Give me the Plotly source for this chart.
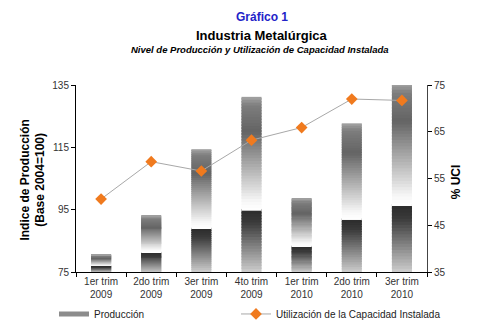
import numpy as np
import plotly.graph_objects as go

# Quarterly categories
quarters = ["1er trim<br>2009", "2do trim<br>2009", "3er trim<br>2009", "4to trim<br>2009",
            "1er trim<br>2010", "2do trim<br>2010", "3er trim<br>2010"]

# Production index (Base 2004=100)
produccion = [80.5, 93.0, 114.4, 131.2, 98.6, 122.7, 135.5]

# Installed capacity utilisation (%)
uci = [50.6, 58.6, 56.6, 63.2, 65.9, 72.0, 71.7]

Y_MIN = 75

# Metallic shading profile along each bar, from top (0) to bottom (1): grey level
shade_pos = [0.00, 0.05, 0.20, 0.60, 0.645, 0.655, 0.72, 1.00]
shade_val = [165, 125, 100, 248, 255, 45, 60, 205]

N_SEG = 60
seg_x, seg_base, seg_h, seg_col = [], [], [], []
for q, v in zip(quarters, produccion):
    h = (v - Y_MIN) / N_SEG
    for i in range(N_SEG):
        t = 1 - (i + 0.5) / N_SEG  # 0 at top, 1 at bottom
        g = int(round(np.interp(t, shade_pos, shade_val)))
        seg_x.append(q)
        seg_base.append(Y_MIN + i * h)
        # segments overlap the next one so no seams appear; the top one ends at the value
        seg_h.append(h * (1.0 if i == N_SEG - 1 else 1.6))
        seg_col.append(f"rgb({g},{g},{g})")

fig = go.Figure()

fig.add_trace(go.Bar(
    x=seg_x, y=seg_h, base=seg_base,
    marker=dict(color=seg_col, line=dict(width=0)),
    width=0.4, showlegend=False, hoverinfo="skip",
))

# Legend entry for the production bars
fig.add_trace(go.Scatter(
    x=[None], y=[None], mode="lines", name="Producción",
    line=dict(color="#8c8c8c", width=5), legend="legend",
))

fig.add_trace(go.Scatter(
    x=quarters, y=uci, yaxis="y2", mode="lines+markers",
    name="Utilización de la Capacidad Instalada",
    line=dict(color="#a8a8a8", width=1),
    marker=dict(symbol="diamond", size=9, color="#f07a1e", line=dict(width=0)),
    legend="legend2",
))

tick_font = dict(family="Liberation Sans, Arial, sans-serif", size=10, color="#333333")
legend_common = dict(
    orientation="h", xref="container", yref="container", xanchor="left",
    y=0.028, yanchor="middle", itemwidth=30,
    font=dict(size=10, color="#222222"), bgcolor="rgba(0,0,0,0)",
)

fig.update_layout(
    width=500, height=323,
    margin=dict(l=76, r=73, t=85, b=51, autoexpand=False),
    paper_bgcolor="white", plot_bgcolor="white",
    barmode="overlay",
    font=dict(family="Liberation Sans, Arial, sans-serif", size=10, color="#222222"),
    xaxis=dict(
        type="category", showline=True, linecolor="black", linewidth=1,
        ticks="outside", ticklen=4, tickcolor="black", tickson="boundaries",
        tickfont=tick_font, showgrid=False, zeroline=False, automargin=False,
    ),
    yaxis=dict(
        range=[75, 135], tickvals=[75, 95, 115, 135], showline=True,
        linecolor="black", linewidth=1, ticks="outside", ticklen=4, tickcolor="black",
        tickfont=tick_font, showgrid=False, zeroline=False, automargin=False,
    ),
    yaxis2=dict(
        range=[35, 75], tickvals=[35, 45, 55, 65, 75], overlaying="y", side="right",
        showline=True, linecolor="#444444", linewidth=1, ticks="outside", ticklen=4,
        tickcolor="black", tickfont=tick_font, showgrid=False, zeroline=False,
        automargin=False,
    ),
    legend=dict(legend_common, x=54 / 500),
    legend2=dict(legend_common, x=236 / 500),
    annotations=[
        dict(text="<b>Gráfico 1</b>", x=0.53, y=17, xref="paper", yref="paper",
             showarrow=False, font=dict(size=12, color="#2323c8")),
        dict(text="<b>Industria Metalúrgica</b>", x=0.53, y=35, xref="paper",
             yref="paper", showarrow=False, font=dict(size=13, color="black")),
        dict(text="<b><i>Nivel de Producción y Utilización de Capacidad Instalada</i></b>",
             x=0.525, y=50, xref="paper", yref="paper", showarrow=False,
             font=dict(size=9.5, color="black")),
        dict(text="<b>Indice de Producción<br>(Base 2004=100)</b>", x=-0.122, y=0.49,
             xanchor="center", yanchor="middle", xref="paper", yref="paper",
             showarrow=False, textangle=-90, font=dict(size=12, color="black")),
        dict(text="<b>% UCI</b>", x=1.083, y=0.48, xanchor="center", yanchor="middle",
             xref="paper", yref="paper", showarrow=False, textangle=-90,
             font=dict(size=12, color="black")),
    ],
)

# Title annotations positioned in pixels from top of the figure
plot_h = 323 - 85 - 51
for ann in fig.layout.annotations[:3]:
    ann.y = 1 + (85 - ann.y) / plot_h
    ann.yanchor = "middle"

fig.write_html("out.html")
